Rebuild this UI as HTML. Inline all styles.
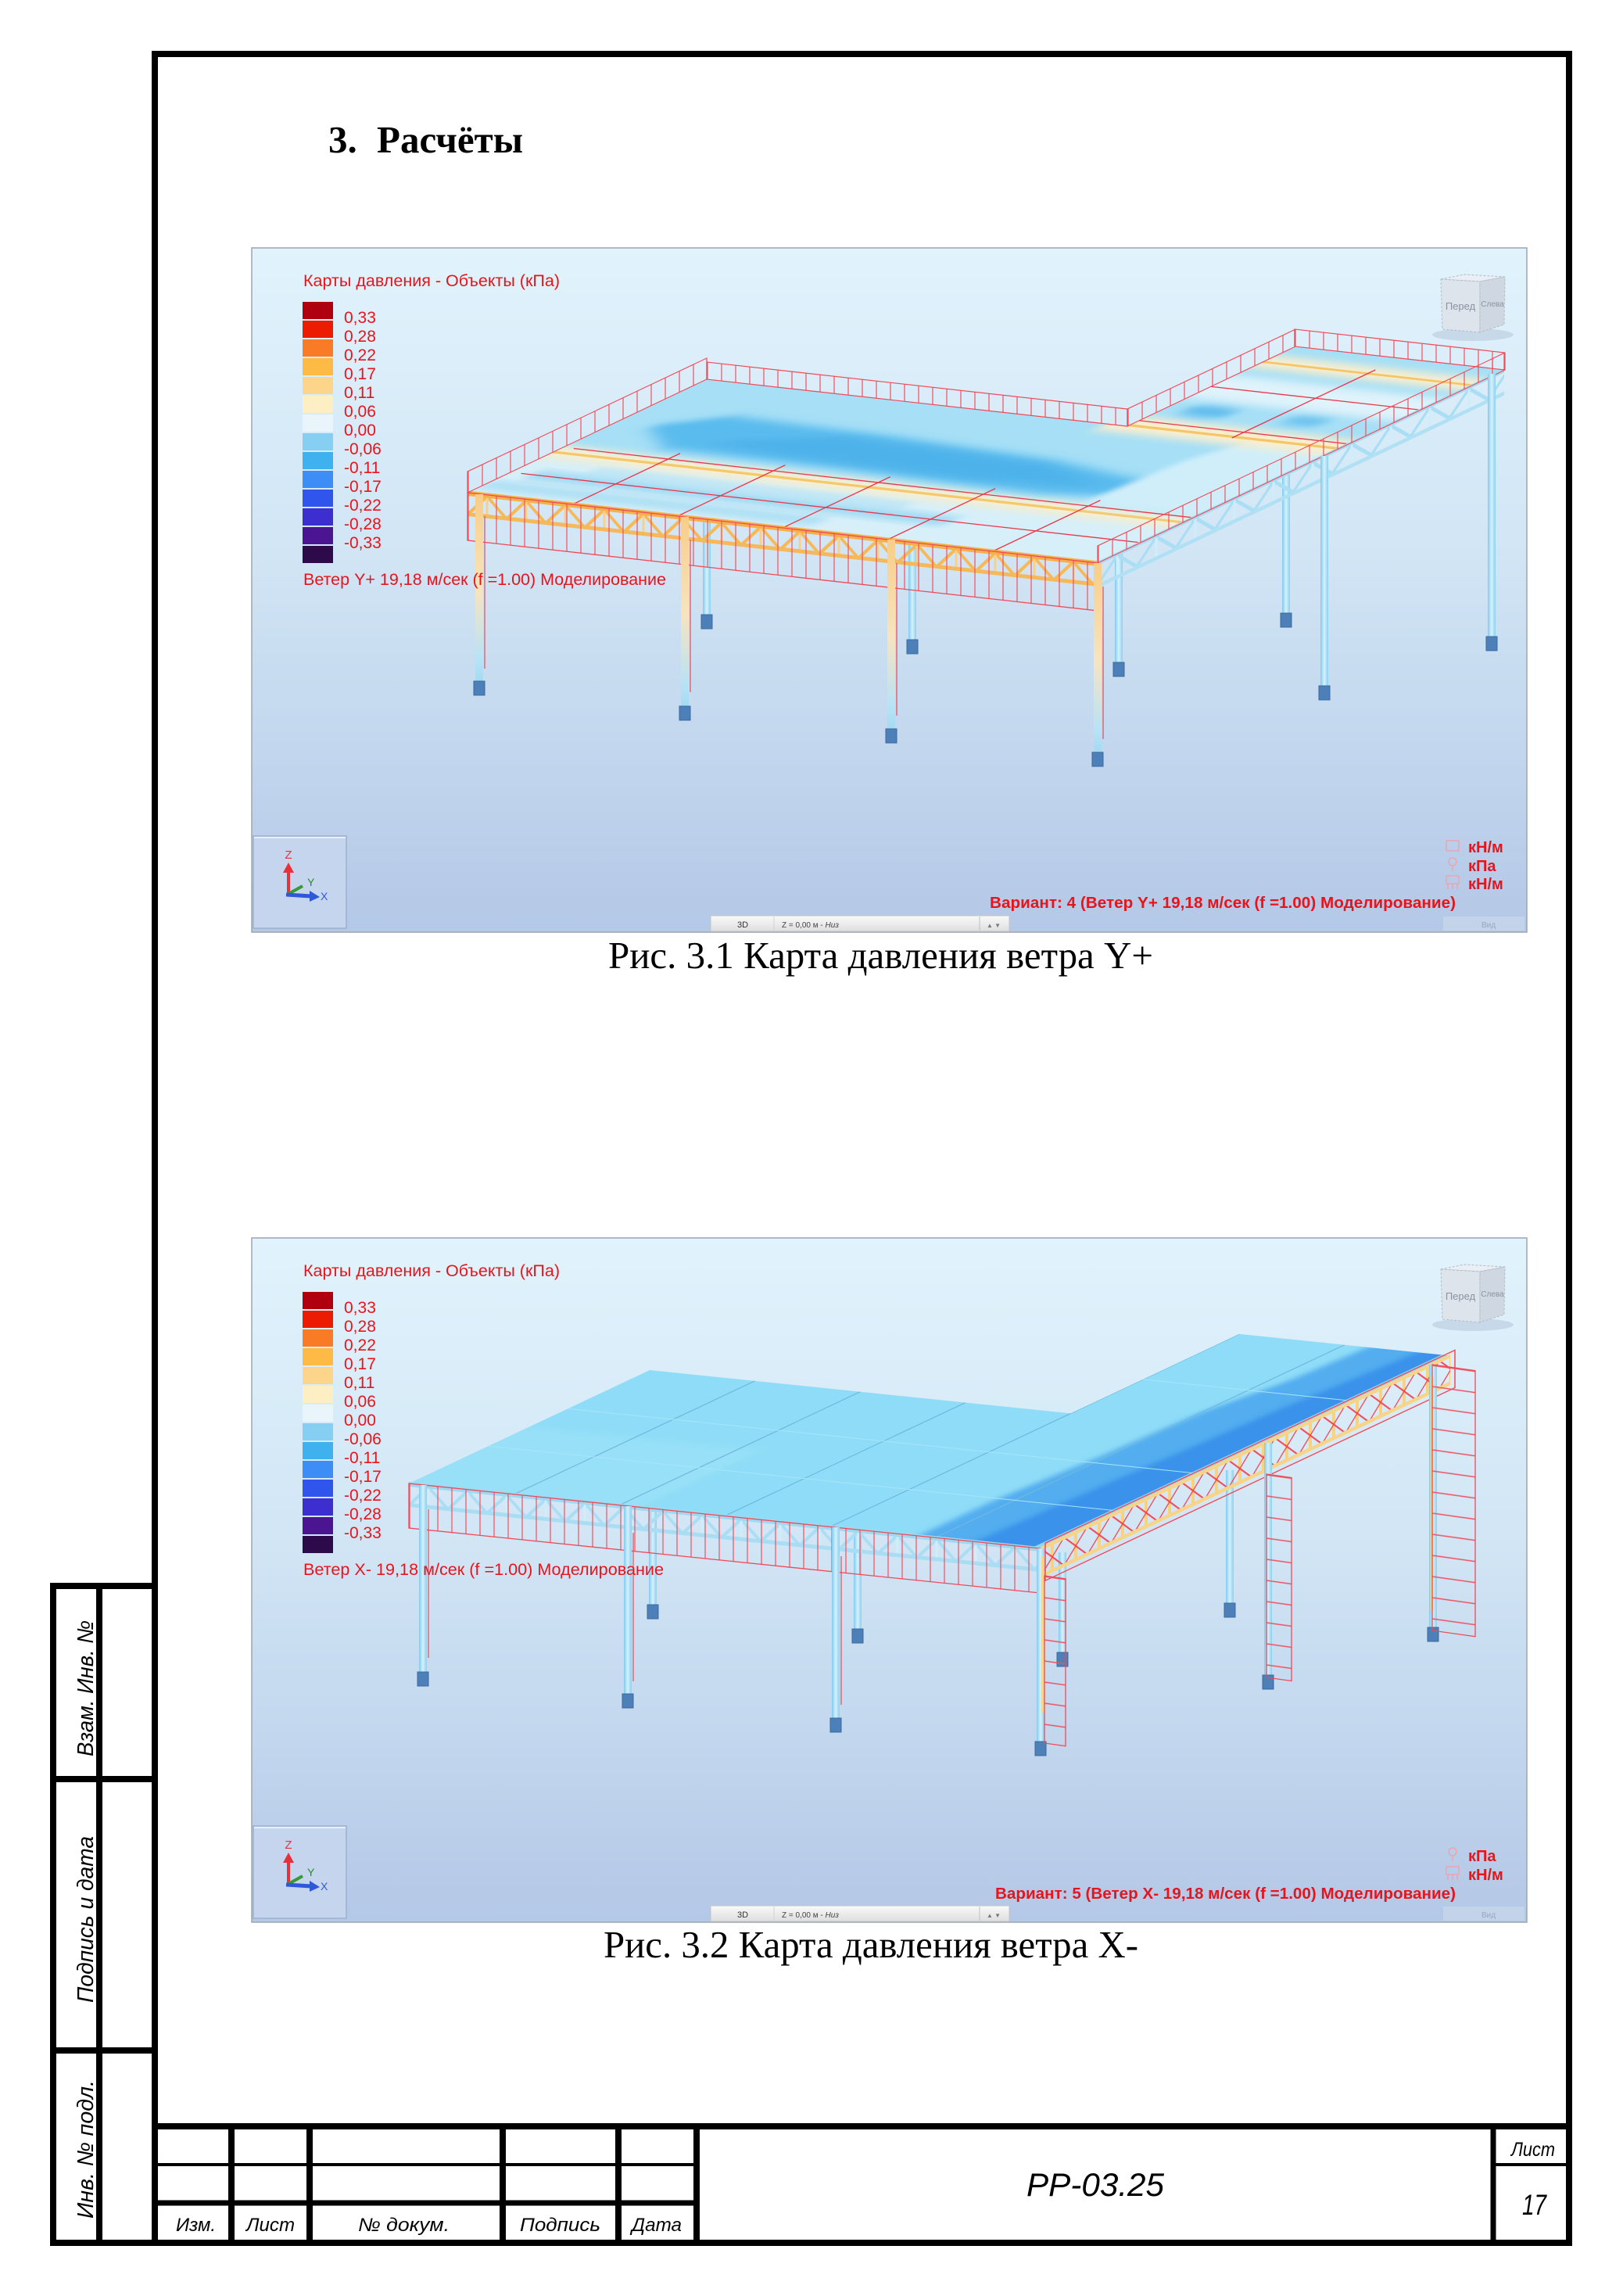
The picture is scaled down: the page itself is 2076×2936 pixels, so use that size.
<!DOCTYPE html>
<html><head><meta charset="utf-8">
<style>
html,body{margin:0;padding:0;background:#fff;width:2076px;height:2936px;overflow:hidden;}
svg{display:block;}
.ns *{vector-effect:non-scaling-stroke;}
.lg{font-family:"Liberation Sans",Arial,sans-serif;fill:#e8141c;}
.gi{font-family:"Liberation Sans",Arial,sans-serif;font-style:italic;fill:#000;}
</style></head>
<body>
<svg width="2076" height="2936" viewBox="0 0 2076 2936" xmlns="http://www.w3.org/2000/svg">
<defs>
 <linearGradient id="bg" x1="0" y1="0" x2="0" y2="1">
  <stop offset="0" stop-color="#e1f3fc"/>
  <stop offset="0.45" stop-color="#d1e5f5"/>
  <stop offset="1" stop-color="#b4c8e7"/>
 </linearGradient>
 <linearGradient id="tb" x1="0" y1="0" x2="0" y2="1">
  <stop offset="0" stop-color="#fafafa"/><stop offset="1" stop-color="#dedede"/>
 </linearGradient>
 <linearGradient id="cO" x1="0" y1="0" x2="0" y2="1">
  <stop offset="0" stop-color="#f8cd88"/><stop offset="0.5" stop-color="#f7e4bf"/>
  <stop offset="0.85" stop-color="#b8e3f6"/><stop offset="1" stop-color="#9fd8f2"/>
 </linearGradient>
 <linearGradient id="cB" x1="0" y1="0" x2="1" y2="0">
  <stop offset="0" stop-color="#80caee"/><stop offset="0.5" stop-color="#d6f1fb"/><stop offset="1" stop-color="#8ad0f0"/>
 </linearGradient>
 <clipPath id="rc"><polygon points="0,0 0,1 2,1 2,1.7 3,1.7 3,0"/></clipPath>
 <filter id="bu" x="-0.3" y="-0.6" width="1.6" height="2.2"><feGaussianBlur stdDeviation="0.025 0.03"/></filter>
 <pattern id="zO" width="50" height="30" patternUnits="userSpaceOnUse"><polyline points="0,28 25,2 50,28" fill="none" stroke="#f6b956" stroke-width="4"/><line x1="25" y1="0" x2="25" y2="30" stroke="#f9d08a" stroke-width="3"/></pattern>
 <pattern id="zB" width="50" height="30" patternUnits="userSpaceOnUse"><polyline points="0,28 25,2 50,28" fill="none" stroke="#a9def4" stroke-width="4"/><line x1="25" y1="0" x2="25" y2="30" stroke="#cdeefa" stroke-width="3"/></pattern>
 <pattern id="zR" width="30" height="36" patternUnits="userSpaceOnUse"><line x1="15" y1="0" x2="15" y2="36" stroke="#f8d27c" stroke-width="4"/><line x1="0" y1="0" x2="30" y2="36" stroke="#f04654" stroke-width="1.6"/><line x1="0" y1="36" x2="30" y2="0" stroke="#f04654" stroke-width="1.6"/></pattern>
 <pattern id="vl" width="18" height="20" patternUnits="userSpaceOnUse"><line x1="1" y1="0" x2="1" y2="20" stroke="#f0505e" stroke-width="1.2"/></pattern>
 <pattern id="hl" width="20" height="27" patternUnits="userSpaceOnUse"><line x1="0" y1="1" x2="20" y2="1" stroke="#f0505e" stroke-width="1.5"/></pattern>
</defs>

<!-- ============ PAGE FRAME ============ -->
<g stroke="#000" fill="none">
 <rect x="198" y="69" width="1809" height="2799" stroke-width="8"/>
 <line x1="68" y1="2024" x2="68" y2="2872" stroke-width="8"/>
 <line x1="127" y1="2024" x2="127" y2="2872" stroke-width="8"/>
 <line x1="64" y1="2028" x2="202" y2="2028" stroke-width="8"/>
 <line x1="64" y1="2275" x2="202" y2="2275" stroke-width="8"/>
 <line x1="64" y1="2622" x2="202" y2="2622" stroke-width="8"/>
 <line x1="64" y1="2868" x2="202" y2="2868" stroke-width="8"/>
 <line x1="198" y1="2719" x2="2007" y2="2719" stroke-width="8"/>
 <line x1="296" y1="2715" x2="296" y2="2872" stroke-width="8"/>
 <line x1="396" y1="2715" x2="396" y2="2872" stroke-width="8"/>
 <line x1="643" y1="2715" x2="643" y2="2872" stroke-width="8"/>
 <line x1="791" y1="2715" x2="791" y2="2872" stroke-width="8"/>
 <line x1="891" y1="2715" x2="891" y2="2872" stroke-width="8"/>
 <line x1="1910" y1="2715" x2="1910" y2="2872" stroke-width="7"/>
 <line x1="198" y1="2768" x2="891" y2="2768" stroke-width="4"/>
 <line x1="198" y1="2817" x2="891" y2="2817" stroke-width="7"/>
 <line x1="1910" y1="2768" x2="2007" y2="2768" stroke-width="4"/>
</g>
<text class="gi" font-size="29" transform="translate(119,2246) rotate(-90)" textLength="174" lengthAdjust="spacingAndGlyphs">Взам. Инв. №</text>
<text class="gi" font-size="29" transform="translate(119,2561) rotate(-90)" textLength="213" lengthAdjust="spacingAndGlyphs">Подпись и дата</text>
<text class="gi" font-size="29" transform="translate(119,2837) rotate(-90)" textLength="177" lengthAdjust="spacingAndGlyphs">Инв. № подл.</text>
<text class="gi" font-size="24" x="225" y="2853" textLength="51" lengthAdjust="spacingAndGlyphs">Изм.</text>
<text class="gi" font-size="24" x="315" y="2853" textLength="62" lengthAdjust="spacingAndGlyphs">Лист</text>
<text class="gi" font-size="24" x="458" y="2853" textLength="117" lengthAdjust="spacingAndGlyphs">№ докум.</text>
<text class="gi" font-size="24" x="665" y="2853" textLength="103" lengthAdjust="spacingAndGlyphs">Подпись</text>
<text class="gi" font-size="24" x="808" y="2853" textLength="64" lengthAdjust="spacingAndGlyphs">Дата</text>
<text class="gi" font-size="42" x="1313" y="2808" textLength="176" lengthAdjust="spacingAndGlyphs">РР-03.25</text>
<text class="gi" font-size="25" x="1933" y="2757" textLength="56" lengthAdjust="spacingAndGlyphs">Лист</text>
<text class="gi" font-size="37" x="1947" y="2832" textLength="31" lengthAdjust="spacingAndGlyphs">17</text>

<!-- Title -->
<text x="420" y="195" font-family="Liberation Serif,serif" font-weight="bold" font-size="49" fill="#000">3.</text>
<text x="482" y="195" font-family="Liberation Serif,serif" font-weight="bold" font-size="49" fill="#000" textLength="187" lengthAdjust="spacingAndGlyphs">Расчёты</text>

<!-- ============ IMAGE 1 ============ -->
<rect x="322" y="317" width="1631" height="875" fill="url(#bg)" stroke="#9aa6b2" stroke-width="1.5"/>

<!-- back columns -->
<g>
 <rect x="899" y="640" width="10" height="154" fill="url(#cB)"/>
 <rect x="1162" y="670" width="10" height="156" fill="url(#cB)"/>
 <rect x="1426" y="700" width="10" height="155" fill="url(#cB)"/>
 <rect x="1640" y="600" width="10" height="192" fill="url(#cB)"/>
 <g fill="#4d7fb8" stroke="#3a6aa0" stroke-width="1">
  <rect x="897" y="786" width="14" height="18"/>
  <rect x="1160" y="818" width="14" height="18"/>
  <rect x="1424" y="847" width="14" height="18"/>
  <rect x="1638" y="784" width="14" height="18"/>
 </g>
</g>

<!-- roof 1 -->
<g transform="matrix(268.7,30,306,-145,598,630)">
 <g clip-path="url(#rc)">
  <rect x="-0.1" y="-0.1" width="3.2" height="1.9" fill="#a6dff6"/>
  <rect x="-0.1" y="-0.1" width="3.2" height="0.44" fill="#d6eff9" filter="url(#bu)"/>
  <rect x="0" y="0.05" width="1.6" height="0.05" fill="#9bd8f2" filter="url(#bu)"/>
  <rect x="0.1" y="0.15" width="2.0" height="0.06" fill="#8fd3f1" filter="url(#bu)"/>
  <rect x="0.3" y="0.24" width="1.5" height="0.04" fill="#a9def4" filter="url(#bu)"/>
  <rect x="-0.1" y="0.31" width="3.2" height="0.1" fill="#fcf0d0" filter="url(#bu)"/>
  <rect x="-0.1" y="0.35" width="3.2" height="0.018" fill="#f5c86a"/>
  <polygon points="0.15,0.62 0.4,0.76 1.2,0.74 2.0,0.7 2.55,0.62 2.6,0.5 2.2,0.45 1.2,0.47 0.4,0.47" fill="#5abbee" filter="url(#bu)"/>
  <polygon points="0.5,0.55 1.0,0.7 2.0,0.66 2.4,0.55 1.8,0.5 0.9,0.52" fill="#4eb2ea" filter="url(#bu)"/>
  <polygon points="2.45,0.4 3.1,0.4 3.1,1.0 2.6,1.0 2.5,0.8" fill="#cfeefa" filter="url(#bu)"/>
  <rect x="1.9" y="0.95" width="1.2" height="0.13" fill="#fbeecd" filter="url(#bu)"/>
  <rect x="1.9" y="1.0" width="1.2" height="0.018" fill="#f4c668"/>
  <ellipse cx="2.2" cy="1.17" rx="0.12" ry="0.04" fill="#58b8ec" filter="url(#bu)"/>
  <ellipse cx="2.65" cy="1.18" rx="0.1" ry="0.035" fill="#62bdee" filter="url(#bu)"/>
  <rect x="1.9" y="1.25" width="1.2" height="0.2" fill="#dff3fb" filter="url(#bu)"/>
  <rect x="1.9" y="1.52" width="1.2" height="0.1" fill="#fbeecd" filter="url(#bu)"/>
  <rect x="1.9" y="1.56" width="1.2" height="0.015" fill="#f4c668"/>
  <rect x="-0.1" y="-0.02" width="3.2" height="0.035" fill="#f3b955"/>
  <g class="ns" stroke="#e8364c" stroke-width="1.3" fill="none">
   <line x1="0.05" y1="0.18" x2="3" y2="0.18"/>
   <line x1="0.05" y1="0.4" x2="3" y2="0.4"/>
   <line x1="0.5" y1="0" x2="0.5" y2="0.45"/>
   <line x1="1" y1="0" x2="1" y2="0.45"/>
   <line x1="1.5" y1="0" x2="1.5" y2="0.45"/>
   <line x1="2" y1="0" x2="2" y2="0.45"/>
   <line x1="2.5" y1="0" x2="2.5" y2="0.45"/>
   <line x1="2" y1="1.05" x2="3" y2="1.05"/>
   <line x1="2" y1="1.35" x2="3" y2="1.35"/>
   <line x1="2.5" y1="1" x2="2.5" y2="1.6"/>
  </g>
 </g>
</g>

<!-- right truss 1 -->
<g transform="translate(1404,720) skewY(-25.36)">
 <rect x="0" y="0" width="520" height="30" fill="url(#zB)"/>
 <rect x="0" y="-2" width="520" height="5" fill="#a8dcf2"/>
 <rect x="0" y="27" width="520" height="5" fill="#b0e0f4"/>
 <rect x="0" y="-22" width="520" height="22" fill="url(#vl)" stroke="#ef4a58" stroke-width="1.2"/>
</g>
<!-- front truss 1 -->
<g transform="translate(598,630) skewY(6.37)">
 <rect x="0" y="0" width="806" height="30" fill="url(#zO)"/>
 <rect x="0" y="-2" width="806" height="6" fill="#f5b04a"/>
 <rect x="0" y="25" width="806" height="5" fill="#f5b85a"/>
 <rect x="0" y="0" width="806" height="61" fill="url(#vl)" stroke="#ef4a58" stroke-width="1.3"/>
</g>
<!-- fences 1 -->
<g transform="translate(598,630) skewY(-25.36)"><rect x="0" y="-27" width="306" height="27" fill="url(#vl)" stroke="#ef4a58" stroke-width="1.2"/></g>
<g transform="translate(904,485) skewY(6.37)"><rect x="0" y="-22" width="538" height="22" fill="url(#vl)" stroke="#ef4a58" stroke-width="1.2"/></g>
<g transform="translate(1442,545) skewY(-25.36)"><rect x="0" y="-22" width="214" height="22" fill="url(#vl)" stroke="#ef4a58" stroke-width="1.2"/></g>
<g transform="translate(1656,443) skewY(6.37)"><rect x="0" y="-22" width="269" height="22" fill="url(#vl)" stroke="#ef4a58" stroke-width="1.2"/></g>

<!-- front + right columns 1 -->
<g>
 <rect x="608" y="632" width="10" height="247" fill="url(#cO)"/>
 <rect x="871" y="661" width="10" height="250" fill="url(#cO)"/>
 <rect x="1135" y="690" width="10" height="250" fill="url(#cO)"/>
 <rect x="1399" y="720" width="10" height="250" fill="url(#cO)"/>
 <rect x="1689" y="583" width="10" height="302" fill="url(#cB)"/>
 <rect x="1903" y="478" width="10" height="344" fill="url(#cB)"/>
 <g stroke="#ea4a58" stroke-width="1.2">
  <line x1="620" y1="660" x2="620" y2="855"/>
  <line x1="883" y1="690" x2="883" y2="885"/>
  <line x1="1147" y1="720" x2="1147" y2="915"/>
  <line x1="1411" y1="750" x2="1411" y2="945"/>
 </g>
 <g fill="#4d7fb8" stroke="#3a6aa0" stroke-width="1">
  <rect x="606" y="871" width="14" height="18"/>
  <rect x="869" y="903" width="14" height="18"/>
  <rect x="1133" y="932" width="14" height="18"/>
  <rect x="1397" y="962" width="14" height="18"/>
  <rect x="1687" y="877" width="14" height="18"/>
  <rect x="1901" y="814" width="14" height="18"/>
 </g>
</g>

<!-- cube 1 -->
<g>
 <ellipse cx="1884" cy="428" rx="52" ry="8" fill="#b9c9dd" opacity="0.6"/>
 <polygon points="1843,357 1873,351 1925,354 1893,360" fill="#eaeff5" stroke="#b3bcc7" stroke-dasharray="3,2"/>
 <polygon points="1843,357 1893,360 1893,425 1845,421" fill="#dde4ec" stroke="#b3bcc7" stroke-dasharray="3,2"/>
 <polygon points="1893,360 1925,354 1924,415 1893,425" fill="#cfd8e2" stroke="#b3bcc7" stroke-dasharray="3,2"/>
 <text x="1868" y="396" font-family="Liberation Sans,sans-serif" font-size="13" fill="#8a939e" text-anchor="middle">Перед</text>
 <text x="1909" y="392" font-family="Liberation Sans,sans-serif" font-size="10" fill="#8a939e" text-anchor="middle">Слева</text>
</g>

<!-- legend 1 -->
<text class="lg" x="388" y="366" font-size="21" textLength="328" lengthAdjust="spacingAndGlyphs">Карты давления - Объекты (кПа)</text>
<g>
 <rect x="387" y="386" width="39" height="22" fill="#b00010"/>
 <rect x="387" y="410" width="39" height="22" fill="#ec1c02"/>
 <rect x="387" y="434" width="39" height="22" fill="#f97b26"/>
 <rect x="387" y="458" width="39" height="22" fill="#fdbb45"/>
 <rect x="387" y="482" width="39" height="22" fill="#fdd58a"/>
 <rect x="387" y="506" width="39" height="22" fill="#feeec4"/>
 <rect x="387" y="530" width="39" height="22" fill="#e9f5fb"/>
 <rect x="387" y="554" width="39" height="22" fill="#86cff3"/>
 <rect x="387" y="578" width="39" height="22" fill="#3fb1ef"/>
 <rect x="387" y="602" width="39" height="22" fill="#3c8ef6"/>
 <rect x="387" y="626" width="39" height="22" fill="#2f55ec"/>
 <rect x="387" y="650" width="39" height="22" fill="#3d2fcf"/>
 <rect x="387" y="674" width="39" height="22" fill="#4b1592"/>
 <rect x="387" y="698" width="39" height="22" fill="#2d0a4a"/>
</g>
<g class="lg" font-size="21">
 <text x="440" y="413">0,33</text><text x="440" y="437">0,28</text><text x="440" y="461">0,22</text>
 <text x="440" y="485">0,17</text><text x="440" y="509">0,11</text><text x="440" y="533">0,06</text>
 <text x="440" y="557">0,00</text><text x="440" y="581">-0,06</text><text x="440" y="605">-0,11</text>
 <text x="440" y="629">-0,17</text><text x="440" y="653">-0,22</text><text x="440" y="677">-0,28</text>
 <text x="440" y="701">-0,33</text>
</g>
<text class="lg" x="388" y="748" font-size="21" textLength="464" lengthAdjust="spacingAndGlyphs">Ветер Y+ 19,18 м/сек (f =1.00) Моделирование</text>

<!-- bottom bar 1 -->
<rect x="324" y="1069" width="119" height="118" fill="#c5d5ee" stroke="#9cb0cf" stroke-width="1.5"/>
<line x1="325" y1="1071" x2="442" y2="1071" stroke="#e8eff9" stroke-width="2"/>
<line x1="369" y1="1143" x2="369" y2="1113" stroke="#e8303a" stroke-width="4"/>
<polygon points="362,1116 369,1103 376,1116" fill="#e8303a"/>
<text x="369" y="1098" font-family="Liberation Sans,sans-serif" font-size="15" fill="#e8303a" text-anchor="middle">Z</text>
<line x1="369" y1="1143" x2="387" y2="1133" stroke="#3a9a3a" stroke-width="4"/>
<text x="393" y="1133" font-family="Liberation Sans,sans-serif" font-size="14" fill="#2a8a2a">Y</text>
<line x1="366" y1="1144" x2="398" y2="1146" stroke="#2f58d8" stroke-width="5"/>
<polygon points="396,1139 409,1147 396,1153" fill="#2f58d8"/>
<text x="410" y="1151" font-family="Liberation Sans,sans-serif" font-size="14" fill="#2f58d8">X</text>

<g stroke="#f2a0a8" fill="none" stroke-width="1.3">
 <rect x="1850" y="1075" width="16" height="13"/>
 <circle cx="1858" cy="1102" r="5"/><line x1="1858" y1="1107" x2="1858" y2="1114"/>
 <rect x="1850" y="1120" width="16" height="10"/><line x1="1852" y1="1130" x2="1852" y2="1137"/><line x1="1858" y1="1130" x2="1858" y2="1137"/><line x1="1864" y1="1130" x2="1864" y2="1137"/>
</g>
<g class="lg" font-size="20" font-weight="bold">
 <text x="1878" y="1090">кН/м</text>
 <text x="1878" y="1114">кПа</text>
 <text x="1878" y="1137">кН/м</text>
</g>
<text class="lg" x="1266" y="1161" font-size="20" font-weight="bold" textLength="596" lengthAdjust="spacingAndGlyphs">Вариант: 4 (Ветер Y+ 19,18 м/сек (f =1.00) Моделирование)</text>

<rect x="909" y="1171" width="382" height="20" fill="url(#tb)" stroke="#c4c4c4"/>
<line x1="990" y1="1172" x2="990" y2="1190" stroke="#d2d2d2"/>
<line x1="1253" y1="1172" x2="1253" y2="1190" stroke="#c0c0c0"/>
<text x="950" y="1186" font-family="Liberation Sans,sans-serif" font-size="11" fill="#333" text-anchor="middle">3D</text>
<text x="1000" y="1186" font-family="Liberation Sans,sans-serif" font-size="10" fill="#444">Z = 0,00 м - <tspan font-style="italic">Низ</tspan></text>
<text x="1262" y="1186" font-family="Liberation Sans,sans-serif" font-size="8" fill="#777">▲ ▼</text>
<rect x="1846" y="1172" width="104" height="18" fill="#c3d3ea"/>
<text x="1904" y="1186" font-family="Liberation Sans,sans-serif" font-size="10" fill="#9aa8bb" text-anchor="middle">Вид</text>

<text x="778" y="1238" font-family="Liberation Serif,serif" font-size="49" fill="#000" textLength="697" lengthAdjust="spacingAndGlyphs">Рис. 3.1 Карта давления ветра Y+</text>

<!-- ============ IMAGE 2 ============ -->
<rect x="322" y="1583" width="1631" height="875" fill="url(#bg)" stroke="#9aa6b2" stroke-width="1.5"/>

<!-- back columns 2 -->
<g>
 <rect x="830" y="1920" width="10" height="140" fill="url(#cB)"/>
 <rect x="1092" y="1950" width="10" height="141" fill="url(#cB)"/>
 <rect x="1354" y="1985" width="10" height="136" fill="url(#cB)"/>
 <rect x="1568" y="1880" width="10" height="178" fill="url(#cB)"/>
 <g fill="#4d7fb8" stroke="#3a6aa0" stroke-width="1">
  <rect x="828" y="2052" width="14" height="18"/>
  <rect x="1090" y="2083" width="14" height="18"/>
  <rect x="1352" y="2113" width="14" height="18"/>
  <rect x="1566" y="2050" width="14" height="18"/>
 </g>
</g>

<!-- roof 2 -->
<g transform="matrix(269.3,27.7,308,-145,523,1897)">
 <g clip-path="url(#rc)">
  <rect x="-0.1" y="-0.1" width="3.2" height="1.9" fill="#8edcf7"/>
  <rect x="-0.1" y="-0.1" width="1.2" height="0.6" fill="#98e0f8" filter="url(#bu)"/>
  <polygon points="2.42,-0.1 3.1,-0.1 3.1,1.8 2.62,1.8 2.58,1.4 2.5,1.1 2.47,0.7 2.42,0.3" fill="#52adef" filter="url(#bu)"/>
  <polygon points="2.68,-0.1 3.1,-0.1 3.1,1.8 2.86,1.8 2.78,1.2 2.72,0.5" fill="#3a92ea" filter="url(#bu)"/>
  <rect x="2.96" y="-0.1" width="0.2" height="1.9" fill="#8fd6f3"/>
  <g class="ns" stroke="#6fb9de" stroke-width="1.2" fill="none">
   <line x1="0.5" y1="0" x2="0.5" y2="1"/>
   <line x1="1" y1="0" x2="1" y2="1"/>
   <line x1="1.5" y1="0" x2="1.5" y2="1"/>
   <line x1="2" y1="0" x2="2" y2="1.7"/>
   <line x1="2.5" y1="0" x2="2.5" y2="1.7"/>
  </g>
  <g class="ns" stroke="#a8e4f8" stroke-width="1" fill="none">
   <line x1="0" y1="0.33" x2="3" y2="0.33"/>
   <line x1="0" y1="0.66" x2="3" y2="0.66"/>
   <line x1="2" y1="1.3" x2="3" y2="1.3"/>
  </g>
 </g>
</g>

<!-- right truss 2 -->
<g transform="translate(1331,1980) skewY(-25.21)">
 <rect x="0" y="0" width="524" height="36" fill="url(#zR)"/>
 <rect x="0" y="-2" width="524" height="5" fill="#f7d488"/>
 <rect x="0" y="33" width="524" height="5" fill="#f7d488"/>
 <rect x="6" y="-4" width="524" height="48" fill="none" stroke="#ef4a58" stroke-width="1.5"/>
</g>
<!-- front truss 2 -->
<g transform="translate(523,1897) skewY(5.87)">
 <rect x="0" y="0" width="808" height="30" fill="url(#zB)"/>
 <rect x="0" y="-2" width="808" height="6" fill="#9fd9f1"/>
 <rect x="0" y="25" width="808" height="5" fill="#a9ddf3"/>
 <rect x="0" y="0" width="808" height="57" fill="url(#vl)" stroke="#ef4a58" stroke-width="1.3"/>
</g>

<!-- front + right columns 2 -->
<g>
 <rect x="536" y="1899" width="10" height="247" fill="url(#cB)"/>
 <rect x="798" y="1926" width="10" height="248" fill="url(#cB)"/>
 <rect x="1064" y="1953" width="10" height="252" fill="url(#cB)"/>
 <rect x="1326" y="1980" width="10" height="255" fill="url(#cB)"/>
 <rect x="1617" y="1845" width="10" height="305" fill="url(#cB)"/>
 <rect x="1828" y="1745" width="10" height="344" fill="url(#cB)"/>
 <rect x="1332" y="1990" width="3" height="200" fill="#f6d68e"/>
 <rect x="1830" y="1760" width="3" height="300" fill="#f6d68e"/>
 <g fill="#4d7fb8" stroke="#3a6aa0" stroke-width="1">
  <rect x="534" y="2138" width="14" height="18"/>
  <rect x="796" y="2166" width="14" height="18"/>
  <rect x="1062" y="2197" width="14" height="18"/>
  <rect x="1324" y="2227" width="14" height="18"/>
  <rect x="1615" y="2142" width="14" height="18"/>
  <rect x="1826" y="2081" width="14" height="18"/>
 </g>
 <g stroke="#ea4a58" stroke-width="1.2">
  <line x1="548" y1="1930" x2="548" y2="2120"/>
  <line x1="810" y1="1960" x2="810" y2="2150"/>
  <line x1="1076" y1="1990" x2="1076" y2="2180"/>
 </g>
</g>
<!-- ladders 2 -->
<g transform="translate(1832,1745) skewY(8)"><rect x="0" y="0" width="55" height="340" fill="url(#hl)" stroke="#ef4a58" stroke-width="1.3"/></g>
<g transform="translate(1620,1885) skewY(8)"><rect x="0" y="0" width="32" height="260" fill="url(#hl)" stroke="#ef4a58" stroke-width="1.3"/></g>
<g transform="translate(1336,2015) skewY(8)"><rect x="0" y="0" width="27" height="214" fill="url(#hl)" stroke="#ef4a58" stroke-width="1.3"/></g>

<!-- cube 2 -->
<g>
 <ellipse cx="1884" cy="1694" rx="52" ry="8" fill="#b9c9dd" opacity="0.6"/>
 <polygon points="1843,1623 1873,1617 1925,1620 1893,1626" fill="#eaeff5" stroke="#b3bcc7" stroke-dasharray="3,2"/>
 <polygon points="1843,1623 1893,1626 1893,1691 1845,1687" fill="#dde4ec" stroke="#b3bcc7" stroke-dasharray="3,2"/>
 <polygon points="1893,1626 1925,1620 1924,1681 1893,1691" fill="#cfd8e2" stroke="#b3bcc7" stroke-dasharray="3,2"/>
 <text x="1868" y="1662" font-family="Liberation Sans,sans-serif" font-size="13" fill="#8a939e" text-anchor="middle">Перед</text>
 <text x="1909" y="1658" font-family="Liberation Sans,sans-serif" font-size="10" fill="#8a939e" text-anchor="middle">Слева</text>
</g>

<!-- legend 2 -->
<text class="lg" x="388" y="1632" font-size="21" textLength="328" lengthAdjust="spacingAndGlyphs">Карты давления - Объекты (кПа)</text>
<g>
 <rect x="387" y="1652" width="39" height="22" fill="#b00010"/>
 <rect x="387" y="1676" width="39" height="22" fill="#ec1c02"/>
 <rect x="387" y="1700" width="39" height="22" fill="#f97b26"/>
 <rect x="387" y="1724" width="39" height="22" fill="#fdbb45"/>
 <rect x="387" y="1748" width="39" height="22" fill="#fdd58a"/>
 <rect x="387" y="1772" width="39" height="22" fill="#feeec4"/>
 <rect x="387" y="1796" width="39" height="22" fill="#e9f5fb"/>
 <rect x="387" y="1820" width="39" height="22" fill="#86cff3"/>
 <rect x="387" y="1844" width="39" height="22" fill="#3fb1ef"/>
 <rect x="387" y="1868" width="39" height="22" fill="#3c8ef6"/>
 <rect x="387" y="1892" width="39" height="22" fill="#2f55ec"/>
 <rect x="387" y="1916" width="39" height="22" fill="#3d2fcf"/>
 <rect x="387" y="1940" width="39" height="22" fill="#4b1592"/>
 <rect x="387" y="1964" width="39" height="22" fill="#2d0a4a"/>
</g>
<g class="lg" font-size="21">
 <text x="440" y="1679">0,33</text><text x="440" y="1703">0,28</text><text x="440" y="1727">0,22</text>
 <text x="440" y="1751">0,17</text><text x="440" y="1775">0,11</text><text x="440" y="1799">0,06</text>
 <text x="440" y="1823">0,00</text><text x="440" y="1847">-0,06</text><text x="440" y="1871">-0,11</text>
 <text x="440" y="1895">-0,17</text><text x="440" y="1919">-0,22</text><text x="440" y="1943">-0,28</text>
 <text x="440" y="1967">-0,33</text>
</g>
<text class="lg" x="388" y="2014" font-size="21" textLength="461" lengthAdjust="spacingAndGlyphs">Ветер X- 19,18 м/сек (f =1.00) Моделирование</text>

<!-- bottom bar 2 -->
<rect x="324" y="2335" width="119" height="118" fill="#c5d5ee" stroke="#9cb0cf" stroke-width="1.5"/>
<line x1="325" y1="2337" x2="442" y2="2337" stroke="#e8eff9" stroke-width="2"/>
<line x1="369" y1="2409" x2="369" y2="2379" stroke="#e8303a" stroke-width="4"/>
<polygon points="362,2382 369,2369 376,2382" fill="#e8303a"/>
<text x="369" y="2364" font-family="Liberation Sans,sans-serif" font-size="15" fill="#e8303a" text-anchor="middle">Z</text>
<line x1="369" y1="2409" x2="387" y2="2399" stroke="#3a9a3a" stroke-width="4"/>
<text x="393" y="2399" font-family="Liberation Sans,sans-serif" font-size="14" fill="#2a8a2a">Y</text>
<line x1="366" y1="2410" x2="398" y2="2412" stroke="#2f58d8" stroke-width="5"/>
<polygon points="396,2405 409,2413 396,2419" fill="#2f58d8"/>
<text x="410" y="2417" font-family="Liberation Sans,sans-serif" font-size="14" fill="#2f58d8">X</text>

<g stroke="#f2a0a8" fill="none" stroke-width="1.3">
 <circle cx="1858" cy="2368" r="5"/><line x1="1858" y1="2373" x2="1858" y2="2380"/>
 <rect x="1850" y="2387" width="16" height="10"/><line x1="1852" y1="2397" x2="1852" y2="2404"/><line x1="1858" y1="2397" x2="1858" y2="2404"/><line x1="1864" y1="2397" x2="1864" y2="2404"/>
</g>
<g class="lg" font-size="20" font-weight="bold">
 <text x="1878" y="2380">кПа</text>
 <text x="1878" y="2404">кН/м</text>
</g>
<text class="lg" x="1273" y="2428" font-size="20" font-weight="bold" textLength="589" lengthAdjust="spacingAndGlyphs">Вариант: 5 (Ветер X- 19,18 м/сек (f =1.00) Моделирование)</text>

<rect x="909" y="2437" width="382" height="20" fill="url(#tb)" stroke="#c4c4c4"/>
<line x1="990" y1="2438" x2="990" y2="2456" stroke="#d2d2d2"/>
<line x1="1253" y1="2438" x2="1253" y2="2456" stroke="#c0c0c0"/>
<text x="950" y="2452" font-family="Liberation Sans,sans-serif" font-size="11" fill="#333" text-anchor="middle">3D</text>
<text x="1000" y="2452" font-family="Liberation Sans,sans-serif" font-size="10" fill="#444">Z = 0,00 м - <tspan font-style="italic">Низ</tspan></text>
<text x="1262" y="2452" font-family="Liberation Sans,sans-serif" font-size="8" fill="#777">▲ ▼</text>
<rect x="1846" y="2438" width="104" height="18" fill="#c3d3ea"/>
<text x="1904" y="2452" font-family="Liberation Sans,sans-serif" font-size="10" fill="#9aa8bb" text-anchor="middle">Вид</text>

<text x="772" y="2503" font-family="Liberation Serif,serif" font-size="49" fill="#000" textLength="684" lengthAdjust="spacingAndGlyphs">Рис. 3.2 Карта давления ветра X-</text>
</svg>
</body></html>
